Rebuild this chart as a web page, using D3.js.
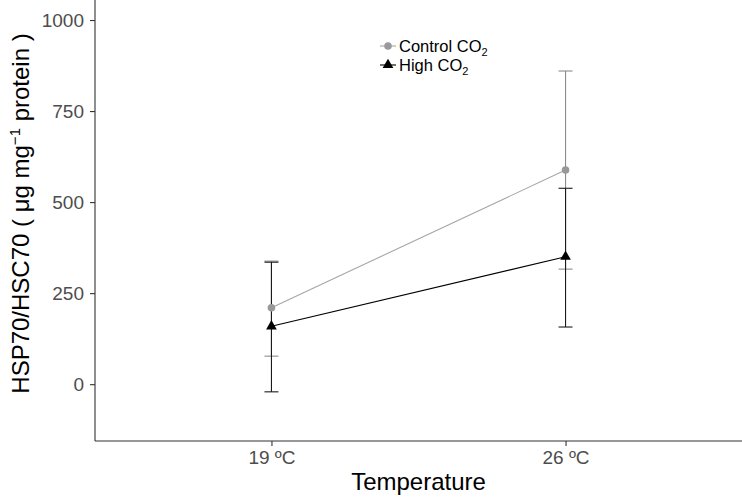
<!DOCTYPE html>
<html>
<head>
<meta charset="utf-8">
<script src="https://cdn.jsdelivr.net/npm/d3@7"></script>
<style>
  body { margin: 0; background: #fff; }
  text { font-family: "Liberation Sans", Arial, sans-serif; }
</style>
</head>
<body>
<div id="chart"></div>
<script>
const temps = ["19 ºC", "26 ºC"];
const controlMean = [210, 588];
const controlLow = [77, 316];
const controlHigh = [338, 860];
const highMean = [159, 350];
const highLow = [-21, 157];
const highHigh = [335, 538];
const yTicks = [0, 250, 500, 750, 1000];

const W = 742, H = 500;
const mLeft = 95, mRight = 742, mTop = 0, mBottom = 441;

const svg = d3.select("#chart").append("svg")
  .attr("width", W).attr("height", H);

const x = d3.scalePoint().domain(temps).range([mLeft, mRight]).padding(0.6);
const y = d3.scaleLinear().domain([-156, 1055]).range([mBottom, mTop]);

// axes
const yAxis = svg.append("g")
  .attr("transform", `translate(${mLeft},0)`)
  .call(d3.axisLeft(y).tickValues(yTicks).tickFormat(d3.format("d")).tickSize(5).tickPadding(6));
const xAxis = svg.append("g")
  .attr("transform", `translate(0,${mBottom})`)
  .call(d3.axisBottom(x).tickSize(5).tickPadding(5));

[yAxis, xAxis].forEach(g => {
  g.select(".domain").attr("stroke", "#333").attr("stroke-width", 1.1);
  g.selectAll(".tick line").attr("stroke", "#333").attr("stroke-width", 1.1);
  g.selectAll(".tick text").attr("fill", "#4d4d4d")
    .style("font-size", "19px").style("font-family", "Liberation Sans, Arial, sans-serif");
});
yAxis.select(".domain").attr("d", `M0,${mTop}V${mBottom}`);
xAxis.select(".domain").attr("d", `M${mLeft},0H${mRight}`);

const series = [
  { name: "Control", mean: controlMean, lo: controlLow, hi: controlHigh,
    line: "#a6a6a6", bar: "#8c8c8c", pt: "#999999", shape: d3.symbolCircle, size: 45 },
  { name: "High", mean: highMean, lo: highLow, hi: highHigh,
    line: "#000", bar: "#1a1a1a", pt: "#000", shape: d3.symbolTriangle, size: 50 }
];

const cap = 7;
series.forEach(s => {
  const g = svg.append("g");
  temps.forEach((t, i) => {
    const cx = x(t);
    g.append("line").attr("x1", cx).attr("x2", cx)
      .attr("y1", y(s.lo[i])).attr("y2", y(s.hi[i]))
      .attr("stroke", s.bar).attr("stroke-width", 1.1);
    [s.lo[i], s.hi[i]].forEach(v => {
      g.append("line").attr("x1", cx - cap).attr("x2", cx + cap)
        .attr("y1", y(v)).attr("y2", y(v))
        .attr("stroke", s.bar).attr("stroke-width", 1.1);
    });
  });
});

series.forEach(s => {
  svg.append("path")
    .datum(temps.map((t, i) => [x(t), y(s.mean[i])]))
    .attr("d", d3.line())
    .attr("fill", "none").attr("stroke", s.line).attr("stroke-width", 1.1);
  svg.selectAll(null).data(temps).enter().append("path")
    .attr("transform", (t, i) => `translate(${x(t)},${y(s.mean[i])})`)
    .attr("d", d3.symbol().type(s.shape).size(s.size))
    .attr("fill", s.pt);
});

// legend
const legend = svg.append("g").attr("transform", "translate(388,46)");
series.forEach((s, i) => {
  const g = legend.append("g").attr("transform", `translate(0,${i * 19})`);
  g.append("line").attr("x1", -8).attr("x2", 8).attr("y1", 0).attr("y2", 0)
    .attr("stroke", s.line).attr("stroke-width", 1.1);
  g.append("path").attr("d", d3.symbol().type(s.shape).size(s.size)).attr("fill", s.pt);
  const label = g.append("text").attr("x", 11).attr("y", 6)
    .style("font-size", "16.5px").attr("fill", "#000");
  label.append("tspan").text(i === 0 ? "Control CO" : "High CO");
  label.append("tspan").attr("dy", 4).style("font-size", "11px").text("2");
});

// axis titles
svg.append("text")
  .attr("x", (mLeft + mRight) / 2).attr("y", 490)
  .attr("text-anchor", "middle").style("font-size", "24px").attr("fill", "#000")
  .text("Temperature");

const yt = svg.append("text")
  .attr("transform", `translate(29,${(mTop + mBottom) / 2 - 7}) rotate(-90)`)
  .attr("text-anchor", "middle").style("font-size", "24px").attr("fill", "#000");
yt.append("tspan").text("HSP70/HSC70 ( μg mg");
yt.append("tspan").attr("dy", -9).style("font-size", "15px").text("−1");
yt.append("tspan").attr("dy", 9).text(" protein )");
</script>
</body>
</html>
